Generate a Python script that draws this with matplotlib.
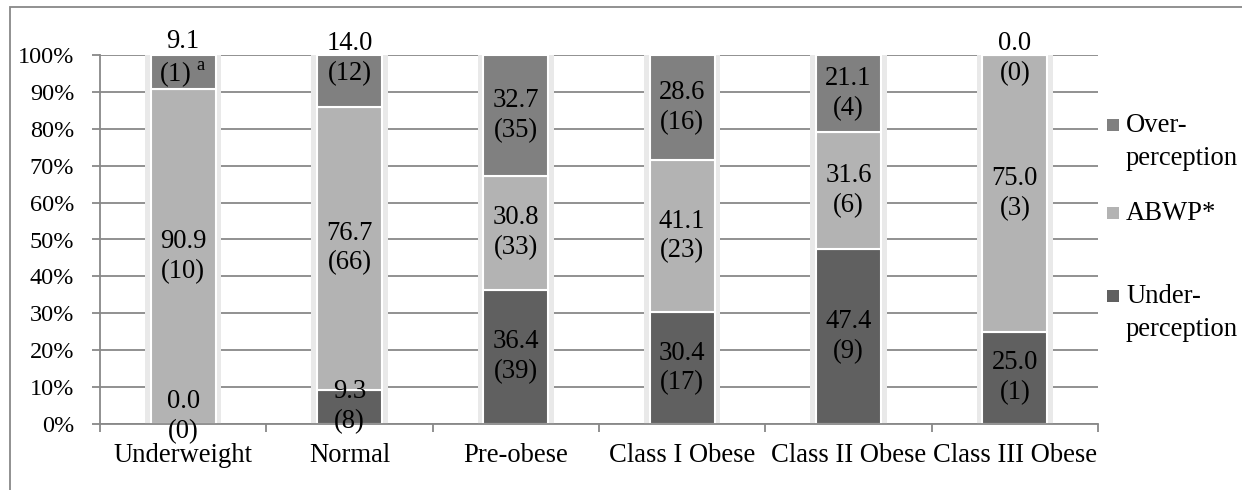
import numpy as np
import matplotlib
matplotlib.use("Agg")
import matplotlib.pyplot as plt
from matplotlib.patches import Rectangle
from matplotlib.ticker import PercentFormatter

plt.rcParams['font.family'] = ['Liberation Serif', 'DejaVu Serif']
plt.rcParams['mathtext.fontset'] = 'custom'
plt.rcParams['mathtext.rm'] = 'Liberation Serif'

categories = ["Underweight", "Normal", "Pre-obese", "Class I Obese",
              "Class II Obese", "Class III Obese"]

# percentages per BMI class
under_pct = [0.0, 9.3, 36.4, 30.4, 47.4, 25.0]
abwp_pct = [90.9, 76.7, 30.8, 41.1, 31.6, 75.0]
over_pct = [9.1, 14.0, 32.7, 28.6, 21.1, 0.0]

# counts
under_n = [0, 8, 39, 17, 9, 1]
abwp_n = [10, 66, 33, 23, 6, 3]
over_n = [1, 12, 35, 16, 4, 0]

series = [
    ("Under-\nperception", under_pct, under_n, "#606060"),
    ("ABWP*", abwp_pct, abwp_n, "#b3b3b3"),
    ("Over-\nperception", over_pct, over_n, "#808080"),
]

fs = 19.2
fs_y = 17.5
grid_col = "#888888"

fig = plt.figure(figsize=(12.42, 4.9), dpi=100)
ax = fig.add_axes([100 / 1242, 66 / 490, 998 / 1242, 369 / 490])

x = np.arange(len(categories))
width = 0.39

# soft shadow behind each bar
ax.bar(x, 100.6, width=width + 0.07, color="#e9e9e9", zorder=1, linewidth=0)

bottom = np.zeros(len(categories))
for name, pct, n, col in series:
    pct = np.array(pct)
    ax.bar(x, pct, width=width, bottom=bottom, color=col,
           edgecolor="white", linewidth=1.5, zorder=2)
    for i in range(len(categories)):
        y = bottom[i] + pct[i] / 2
        top = bottom[i] + pct[i]
        if top >= 99.9 and pct[i] < 15:
            y = 99.0
        elif pct[i] < 1 and bottom[i] < 1:
            y = 2.0
        label = f"{pct[i]:.1f}\n({n[i]})"
        if name.startswith("Over") and i == 0:
            label = f"{pct[i]:.1f}\n({n[i]}) $^{{\\rm a}}$"
        ax.text(x[i], y, label, ha="center", va="center", fontsize=fs,
                linespacing=1.25, zorder=3)
    bottom = bottom + pct

ax.set_xlim(-0.5, len(categories) - 0.5)
ax.set_ylim(0, 100)
ax.set_yticks(np.arange(0, 101, 10))
ax.yaxis.set_major_formatter(PercentFormatter(decimals=0))
ax.yaxis.grid(True, color=grid_col, linewidth=1.3)
ax.set_axisbelow(True)

ax.set_xticks(x)
ax.set_xticklabels(categories)
ax.set_xticks(np.arange(-0.5, len(categories)), minor=True)
ax.tick_params(axis="x", which="major", length=0, pad=14, labelsize=fs)
ax.tick_params(axis="x", which="minor", length=5.5, width=1.3, color=grid_col)
ax.tick_params(axis="y", length=5.5, width=1.3, color=grid_col, pad=13,
               labelsize=fs_y)

for side in ("top", "right"):
    ax.spines[side].set_visible(False)
for side in ("left", "bottom"):
    ax.spines[side].set_color(grid_col)
    ax.spines[side].set_linewidth(1.3)

# legend drawn at the right of the plot
legend_rows = [("Over-\nperception", "#808080", 125),
               ("ABWP*", "#b3b3b3", 213),
               ("Under-\nperception", "#606060", 296)]
for text, col, ypix in legend_rows:
    yf = 1 - ypix / 490
    fig.patches.append(Rectangle((1107 / 1242, yf - 6 / 490), 12 / 1242, 12 / 490,
                                 transform=fig.transFigure, facecolor=col,
                                 edgecolor="none"))
    fig.text(1126 / 1242, yf + 12 / 490, text, ha="left", va="top",
             fontsize=fs, linespacing=1.4)

# outer frame
fig.patches.append(Rectangle((10 / 1242, -0.1), 1.2, 1.1 - 7 / 490,
                             transform=fig.transFigure, fill=False,
                             edgecolor=grid_col, linewidth=1.3))

fig.savefig("out.png", dpi=100)
